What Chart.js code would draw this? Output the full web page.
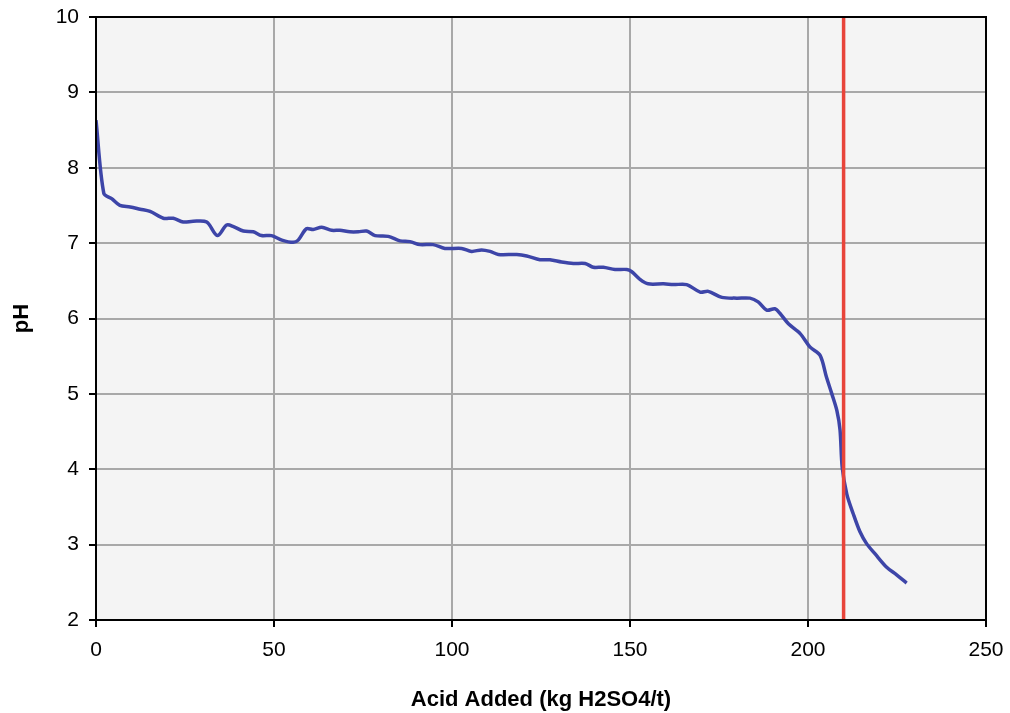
<!DOCTYPE html>
<html>
<head>
<meta charset="utf-8">
<script src="https://cdn.jsdelivr.net/npm/chart.js@4"></script>
<style>
  html, body { margin: 0; padding: 0; background: #fff; }
  #wrap { width: 1010px; height: 713px; position: relative; }
</style>
</head>
<body>
<div id="wrap"><canvas id="phChart"></canvas></div>
<script>
// acid added (kg H2SO4/t) vs pH
const acidAdded = [0, 2.2, 4.4, 6.7, 9.6, 12.4, 15.2, 18.9, 21.7, 24.5, 27.3, 31.1, 34.1, 36.7,
  38.6, 41.4, 44.2, 46.5, 49.3, 52.2, 55.4, 56.8, 59.1, 61.0, 63.4, 66.2, 68.5, 71.3, 73.7,
  76.0, 78.4, 82.1, 85.4, 88.2, 91.0, 94.7, 98.0, 102.7, 105.5, 108.3, 110.7, 113.0, 118.2,
  121.0, 124.7, 127.5, 130.8, 134.1, 137.4, 139.7, 142.5, 145.8, 149.1, 150.5, 152.8, 155.1,
  159.4, 162.2, 165.9, 169.7, 172.0, 175.8, 180.0, 183.7, 186.0, 188.4, 190.7, 192.1, 194.5,
  197.8, 200.6, 203.4, 205.2, 206.7, 208.1, 209.0, 209.6, 210.9, 212.7, 214.6, 216.5, 218.8,
  222.1, 224.9, 227.7];
const phValues = [8.63, 7.66, 7.59, 7.50, 7.48, 7.45, 7.42, 7.33, 7.33, 7.28, 7.29, 7.28, 7.10, 7.24,
  7.22, 7.16, 7.15, 7.10, 7.10, 7.04, 7.01, 7.04, 7.19, 7.18, 7.21, 7.17, 7.17, 7.15, 7.15,
  7.16, 7.10, 7.09, 7.03, 7.02, 6.98, 6.98, 6.93, 6.93, 6.89, 6.91, 6.89, 6.85, 6.85,
  6.83, 6.78, 6.78, 6.75, 6.73, 6.73, 6.68, 6.68, 6.65, 6.65, 6.62, 6.52, 6.46,
  6.46, 6.45, 6.45, 6.35, 6.36, 6.28, 6.27, 6.27, 6.22, 6.11, 6.13, 6.07, 5.93,
  5.80, 5.62, 5.51, 5.22, 5.00, 4.78, 4.52, 4.03, 3.67, 3.41, 3.17, 3.01, 2.88,
  2.70, 2.60, 2.49];

// end point marker
const endPointX = [210, 210];
const endPointY = [2, 10];

const xTicks = [0, 50, 100, 150, 200, 250];
const yTicks = [2, 3, 4, 5, 6, 7, 8, 9, 10];

const FONT = 'Liberation Sans, Arial, sans-serif';

const plotBg = {
  id: 'plotBg',
  beforeDraw(chart) {
    const a = chart.chartArea, c = chart.ctx;
    c.save();
    c.fillStyle = '#f4f4f4';
    c.fillRect(a.left, a.top, a.right - a.left, a.bottom - a.top);
    c.restore();
  },
  afterDraw(chart) {
    const a = chart.chartArea, c = chart.ctx;
    c.save();
    c.strokeStyle = '#000';
    c.lineWidth = 2;
    c.strokeRect(a.left, a.top, a.right - a.left, a.bottom - a.top);
    c.restore();
  }
};

const ctx = document.getElementById('phChart');
new Chart(ctx, {
  type: 'scatter',
  data: {
    datasets: [
      {
        label: 'pH',
        data: acidAdded.map((x, i) => ({ x: x, y: phValues[i] })),
        showLine: true,
        borderColor: '#3d45a8',
        borderWidth: 3.5,
        pointRadius: 0,
        tension: 0.3,
        order: 2
      },
      {
        label: 'end point',
        data: endPointX.map((x, i) => ({ x: x, y: endPointY[i] })),
        showLine: true,
        borderColor: '#e8443a',
        borderWidth: 3.5,
        pointRadius: 0,
        order: 1
      }
    ]
  },
  options: {
    responsive: true,
    maintainAspectRatio: false,
    animation: false,
    layout: { padding: { top: 17, right: 24, left: 0, bottom: 0 } },
    plugins: {
      legend: { display: false },
      tooltip: { enabled: false }
    },
    scales: {
      x: {
        type: 'linear',
        min: 0,
        max: 250,
        afterBuildTicks: s => { s.ticks = xTicks.map(v => ({ value: v })); },
        afterFit: s => { s.height = 93; s.paddingLeft = 0; s.paddingRight = 0; },
        grid: { color: '#a8a8a8', lineWidth: 2, tickColor: '#000', tickLength: 7 },
        border: { color: '#000', width: 2 },
        ticks: { color: '#000', font: { family: FONT, size: 21 }, padding: 11, maxRotation: 0 },
        title: {
          display: true,
          text: 'Acid Added (kg H2SO4/t)',
          color: '#000',
          font: { family: FONT, size: 22, weight: 'bold' },
          padding: { top: 20, bottom: 0 }
        }
      },
      y: {
        min: 2,
        max: 10,
        afterBuildTicks: s => { s.ticks = yTicks.map(v => ({ value: v })); },
        afterFit: s => { s.width = 96; s.paddingTop = 0; s.paddingBottom = 0; },
        grid: { color: '#a8a8a8', lineWidth: 2, tickColor: '#000', tickLength: 7 },
        border: { color: '#000', width: 2 },
        ticks: { color: '#000', font: { family: FONT, size: 21 }, padding: 10 },
        title: {
          display: true,
          text: 'pH',
          color: '#000',
          font: { family: FONT, size: 22, weight: 'bold' },
          padding: { top: 9, bottom: 0 }
        }
      }
    }
  },
  plugins: [plotBg]
});
</script>
</body>
</html>
